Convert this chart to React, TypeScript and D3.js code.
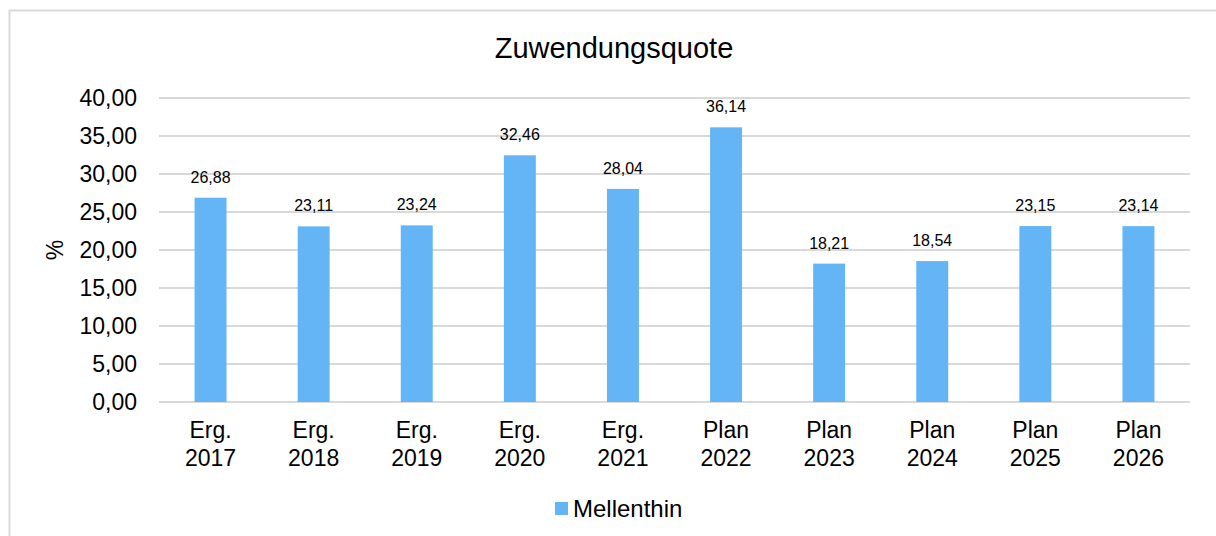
import * as d3 from "d3";

const categories = [
  ["Erg.", "2017"],
  ["Erg.", "2018"],
  ["Erg.", "2019"],
  ["Erg.", "2020"],
  ["Erg.", "2021"],
  ["Plan", "2022"],
  ["Plan", "2023"],
  ["Plan", "2024"],
  ["Plan", "2025"],
  ["Plan", "2026"],
];
const values = [26.88, 23.11, 23.24, 32.46, 28.04, 36.14, 18.21, 18.54, 23.15, 23.14];
const yTicks = [0, 5, 10, 15, 20, 25, 30, 35, 40];
const seriesName = "Mellenthin";
const title = "Zuwendungsquote";

const W = 1216,
  H = 536;
const left = 159,
  right = 1190,
  top = 98,
  bottom = 402;
const barColor = "#64B5F6";
const gridColor = "#d9d9d9";
const font = "'Liberation Sans', Arial, Helvetica, sans-serif";

const fmt = (v: number) => v.toFixed(2).replace(".", ",");

export default function App() {
  const x = d3
    .scaleBand<number>()
    .domain(d3.range(categories.length))
    .range([left, right])
    .paddingInner(0.69)
    .paddingOuter(0.345);
  const y = d3.scaleLinear().domain([0, 40]).range([bottom, top]);

  return (
    <svg
      width={W}
      height={H}
      style={{ position: "absolute", left: 0, top: 0, background: "#fff" }}
      fontFamily={font}
    >
      <rect x={9.5} y={10.5} width={W + 20} height={H + 20} fill="#fff" stroke={gridColor} strokeWidth={2} />
      <text x={614} y={58} textAnchor="middle" fontSize={29} fill="#000">
        {title}
      </text>
      {yTicks.map((t) => (
        <g key={t}>
          <line x1={left} x2={right} y1={y(t)} y2={y(t)} stroke={gridColor} strokeWidth={2} />
          <text x={137} y={y(t)} dy="0.35em" textAnchor="end" fontSize={23} fill="#000">
            {fmt(t)}
          </text>
        </g>
      ))}
      <text transform={`translate(63,${(top + bottom) / 2}) rotate(-90)`} textAnchor="middle" fontSize={23} fill="#000">
        %
      </text>
      {values.map((v, i) => (
        <g key={i}>
          <rect x={x(i)} y={y(v)} width={x.bandwidth()} height={y(0) - y(v)} fill={barColor} />
          <text x={x(i)! + x.bandwidth() / 2} y={y(v) - 15} textAnchor="middle" fontSize={16} fill="#000">
            {fmt(v)}
          </text>
          <text x={x(i)! + x.bandwidth() / 2} y={438} textAnchor="middle" fontSize={23} fill="#000">
            {categories[i][0]}
          </text>
          <text x={x(i)! + x.bandwidth() / 2} y={466} textAnchor="middle" fontSize={23} fill="#000">
            {categories[i][1]}
          </text>
        </g>
      ))}
      <rect x={555} y={502} width={13} height={13} fill={barColor} />
      <text x={573} y={517} fontSize={24} fill="#000">
        {seriesName}
      </text>
    </svg>
  );
}
